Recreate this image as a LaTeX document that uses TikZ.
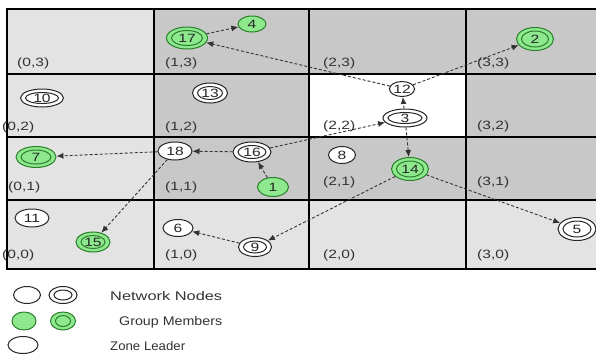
\documentclass[tikz,border=0pt]{standalone}
\usepackage{fontspec}
\setmainfont{Liberation Sans}
\usepackage{graphicx}
\usetikzlibrary{shapes.geometric,arrows.meta}
\definecolor{lightcell}{HTML}{E3E3E3}
\definecolor{darkcell}{HTML}{C8C8C8}
\definecolor{gfill}{HTML}{8EE88E}
\definecolor{gline}{HTML}{2A7F2A}
\definecolor{txt}{HTML}{333333}
\definecolor{nline}{HTML}{262626}
\newcommand{\sx}[1]{\scalebox{1.3}[1]{#1}}
\tikzset{
  nd/.style={ellipse, draw=nline, line width=1pt, fill=white, inner sep=0pt,
    font=\fontsize{12}{13}\selectfont, text=nline},
  wsize/.style 2 args={minimum width=#1, minimum height=#2},
  grn/.style={draw=gline, fill=gfill},
  dbl/.style n args={3}{minimum width=#1, minimum height=#2,
    path picture={\draw[#3, line width=1pt] (path picture bounding box.center)
      ellipse [x radius=#1/2-5pt, y radius=#2/2-3.5pt];}},
  lbl/.style={anchor=west, inner sep=0pt, font=\fontsize{12}{13}\selectfont, text=txt},
  lg/.style={anchor=west, inner sep=0pt, font=\fontsize{12.5}{14}\selectfont, text=txt},
  arr/.style={-{Latex[length=7pt,width=6pt]}, dash pattern=on 3pt off 2pt,
    line width=0.9pt, draw=black!80},
  gridline/.style={line width=1.6pt, draw=black}
}
\begin{document}
\begin{tikzpicture}[x=1pt,y=-1pt]
\useasboundingbox (0,0) rectangle (596,354);
\fill[white] (0,0) rectangle (596,354);
% cell fills
\fill[lightcell] (7,9) rectangle (154,269);
\fill[lightcell] (154,200) rectangle (596,269);
\fill[darkcell] (154,9) rectangle (596,200);
\fill[white] (309,74) rectangle (466,137);
% grid lines
\foreach \yy in {9,74,137,200,269} { \draw[gridline] (6,\yy) -- (596,\yy); }
\foreach \xx in {7,154,309,466} { \draw[gridline] (\xx,9) -- (\xx,269); }
% cell labels
\node[lbl] (c03) at (17,63) {\sx{(0,3)}};
\node[lbl] (c13) at (165,63) {\sx{(1,3)}};
\node[lbl] (c23) at (323,63) {\sx{(2,3)}};
\node[lbl] (c33) at (477,63) {\sx{(3,3)}};
\node[lbl] (c02) at (2,127) {\sx{(0,2)}};
\node[lbl] (c12) at (165,127) {\sx{(1,2)}};
\node[lbl] (c22) at (323,126) {\sx{(2,2)}};
\node[lbl] (c32) at (477,126) {\sx{(3,2)}};
\node[lbl] (c01) at (8,187) {\sx{(0,1)}};
\node[lbl] (c11) at (165,187) {\sx{(1,1)}};
\node[lbl] (c21) at (323,182) {\sx{(2,1)}};
\node[lbl] (c31) at (477,182) {\sx{(3,1)}};
\node[lbl] (c00) at (2,255) {\sx{(0,0)}};
\node[lbl] (c10) at (165,255) {\sx{(1,0)}};
\node[lbl] (c20) at (323,255) {\sx{(2,0)}};
\node[lbl] (c30) at (477,255) {\sx{(3,0)}};
% nodes
\node[nd, grn, dbl={41pt}{22pt}{gline}] (n17) at (187,38) {\sx{17}};
\node[nd, grn, wsize={28pt}{16pt}] (n4) at (252,24) {\sx{4}};
\node[nd, grn, dbl={37pt}{23pt}{gline}] (n2) at (535,39) {\sx{2}};
\node[nd, dbl={43pt}{18pt}{nline}] (n10) at (42,98) {\sx{10}};
\node[nd, dbl={35pt}{20pt}{nline}] (n13) at (210,93) {\sx{13}};
\node[nd, wsize={25pt}{15pt}] (n12) at (402,89) {\sx{12}};
\node[nd, dbl={44pt}{18pt}{nline}] (n3) at (405,118) {\sx{3}};
\node[nd, grn, dbl={40pt}{21pt}{gline}] (n7) at (36,157) {\sx{7}};
\node[nd, wsize={34pt}{18pt}] (n18) at (175,151) {\sx{18}};
\node[nd, dbl={38pt}{20pt}{nline}] (n16) at (252,152) {\sx{16}};
\node[nd, grn, wsize={31pt}{19pt}] (n1) at (273,187) {\sx{1}};
\node[nd, wsize={27pt}{17pt}] (n8) at (342,155) {\sx{8}};
\node[nd, grn, dbl={37pt}{23pt}{gline}] (n14) at (410,169) {\sx{14}};
\node[nd, wsize={34pt}{18pt}] (n11) at (32,218) {\sx{11}};
\node[nd, grn, dbl={34pt}{20pt}{gline}] (n15) at (93,242) {\sx{15}};
\node[nd, wsize={30pt}{17pt}] (n6) at (178,228) {\sx{6}};
\node[nd, dbl={33pt}{19pt}{nline}] (n9) at (255,247) {\sx{9}};
\node[nd, dbl={38pt}{23pt}{nline}] (n5) at (577,229) {\sx{5}};
% connectors
\draw[arr] (n17) -- (n4);
\draw[arr] (n12) -- (n17);
\draw[arr] (n12) -- (n2);
\draw[arr] (n3) -- (n12);
\draw[arr] (n16) -- (n3);
\draw[arr] (n3) -- (n14);
\draw[arr] (n16) -- (n18);
\draw[arr] (n1) -- (n16);
\draw[arr] (n18) -- (n7);
\draw[arr] (n18) -- (n15);
\draw[arr] (n14) -- (n9);
\draw[arr] (n9) -- (n6);
\draw[arr] (n14) -- (n5);
% legend
\node[nd, wsize={27pt}{17pt}] (l1) at (27,295) {};
\node[nd, dbl={28pt}{17pt}{nline}] (l2) at (63,295) {};
\node[nd, grn, wsize={24pt}{18pt}] (l3) at (24,321) {};
\node[nd, grn, dbl={25pt}{18pt}{gline}] (l4) at (63,321) {};
\node[nd, wsize={30pt}{17pt}] (l5) at (23,345) {};
\node[lg] (t1) at (110,296) {\resizebox{112pt}{\height}{Network Nodes}};
\node[lg] (t2) at (119,322) {\resizebox{103pt}{\height}{Group Members}};
\node[lg] (t3) at (110,346.5) {\resizebox{75pt}{\height}{Zone Leader}};
\end{tikzpicture}
\end{document}
